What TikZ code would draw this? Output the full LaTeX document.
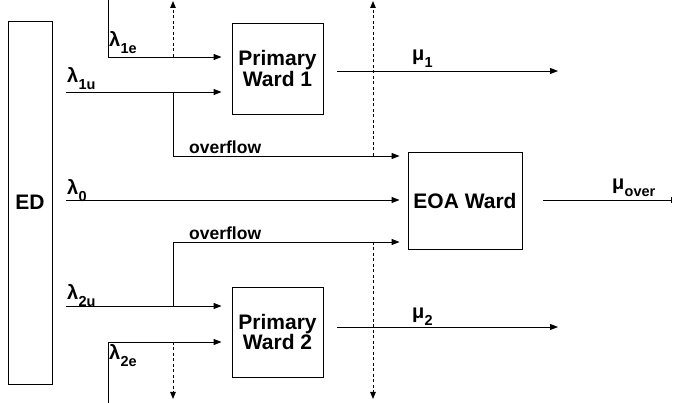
\documentclass[tikz,border=0pt]{standalone}
\usepackage{fontspec}
\setmainfont{Liberation Sans}
\usetikzlibrary{arrows.meta}
\newcommand\symsub[2]{#1\kern0.3pt\raisebox{-0.33em}{\fontsize{14.5}{14.5}\selectfont #2}}
\begin{document}
\begin{tikzpicture}[x=1pt,y=-1pt,
  font=\bfseries\fontsize{21}{19}\selectfont,
  box/.style={draw,line width=0.9pt,inner sep=0pt,align=center},
  lbl/.style={anchor=base west,inner sep=0pt,font=\bfseries\fontsize{20}{20}\selectfont},
  flowlbl/.style={anchor=base west,inner sep=0pt,font=\bfseries\fontsize{17.5}{18}\selectfont},
  flow/.style={line width=0.9pt,-{Triangle[length=8pt,width=6pt]}},
  plain/.style={line width=0.9pt},
  dashflow/.style={line width=0.9pt,dash pattern=on 3pt off 2.5pt,-{Triangle[length=7pt,width=5.5pt]}}
  ]
\useasboundingbox (0,0) rectangle (673,403);
% boxes
\node[box,minimum width=44pt,minimum height=363pt] (ed) at (30,202.5) {ED};
\node[box,minimum width=91pt,minimum height=91pt] (pw1) at (277.5,68.5) {Primary\\Ward 1};
\node[box,minimum width=91pt,minimum height=90pt] (pw2) at (277.5,332) {Primary\\Ward 2};
\node[box,minimum width=114pt,minimum height=97pt] (eoa) at (465,200.5) {EOA Ward};
% free ends
\coordinate (l1etop) at (108,0);
\coordinate (l1ecorner) at (108,57);
\coordinate (l1estart) at (66,92);
\coordinate (l0start) at (66,200);
\coordinate (l2ustart) at (66,306);
\coordinate (l2ebot) at (108,403);
\coordinate (l2ecorner) at (108,342);
\coordinate (ov1split) at (173,92);
\coordinate (ov1corner) at (173,156);
\coordinate (ov2split) at (173,306);
\coordinate (ov2corner) at (173,242);
\coordinate (d1a) at (173,57);
\coordinate (d1top) at (173,1);
\coordinate (d2a) at (173,342);
\coordinate (d2bot) at (173,399);
\coordinate (d3a) at (373,156);
\coordinate (d3top) at (373,1);
\coordinate (d4a) at (373,242);
\coordinate (d4bot) at (373,399);
\coordinate (mu1s) at (337,71);
\coordinate (mu1e) at (558,71);
\coordinate (mu2s) at (337,327);
\coordinate (mu2e) at (558,327);
\coordinate (mos) at (543,200);
\coordinate (moe) at (672,200);
% inputs to Primary Ward 1
\draw[flow,shorten >=10pt] (l1etop) -- (l1ecorner) -- (l1ecorner -| pw1.west);
\draw[flow,shorten >=10pt] (l1estart) -- (l1estart -| pw1.west);
% overflow 1
\draw[flow,shorten >=8pt] (ov1split) -- (ov1corner) -- (ov1corner -| eoa.west);
% lambda 0
\draw[flow,shorten >=8pt] (l0start) -- (l0start -| eoa.west);
% overflow 2
\draw[flow,shorten >=8pt] (ov2split) -- (ov2corner) -- (ov2corner -| eoa.west);
% inputs to Primary Ward 2
\draw[flow,shorten >=10pt] (l2ustart) -- (l2ustart -| pw2.west);
\draw[flow,shorten >=10pt] (l2ebot) -- (l2ecorner) -- (l2ecorner -| pw2.west);
% dashed
\draw[dashflow] (d1a) -- (d1top);
\draw[dashflow] (d2a) -- (d2bot);
\draw[dashflow] (d3a) -- (d3top);
\draw[dashflow] (d4a) -- (d4bot);
% outputs
\draw[flow] (mu1s) -- (mu1e);
\draw[flow] (mu2s) -- (mu2e);
\draw[plain,-{Bar[width=6pt]}] (mos) -- (moe);
% labels
\node[lbl] (t1e) at (109,47) {\symsub{λ}{1e}};
\node[lbl] (t1u) at (67,83) {\symsub{λ}{1u}};
\node[lbl] (t0) at (67,195) {\symsub{λ}{0}};
\node[lbl] (t2u) at (67,300) {\symsub{λ}{2u}};
\node[lbl] (t2e) at (109,360) {\symsub{λ}{2e}};
\node[lbl] (tm1) at (412,61) {\symsub{μ}{1}};
\node[lbl] (tm2) at (412,319) {\symsub{μ}{2}};
\node[lbl] (tmo) at (612,190) {\symsub{μ}{over}};
\node[flowlbl] (of1) at (189,154) {overflow};
\node[flowlbl] (of2) at (189,240) {overflow};
\end{tikzpicture}
\end{document}
